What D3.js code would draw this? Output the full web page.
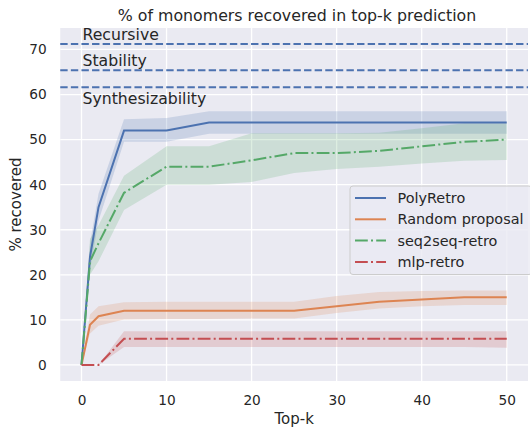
<!DOCTYPE html>
<html>
<head>
<meta charset="utf-8">
<script src="https://cdn.jsdelivr.net/npm/d3@7"></script>
<style>
  body { margin: 0; background: #fff; }
  text { font-family: "DejaVu Sans", sans-serif; fill: #262626; }
</style>
</head>
<body>
<div class="chart"></div>
<script>
// data
const topK = [0, 1, 2, 5, 10, 15, 20, 25, 30, 35, 40, 45, 50];

const polyMean = [0, 24, 35, 52, 52, 53.8, 53.8, 53.8, 53.8, 53.8, 53.8, 53.8, 53.8];
const polyLo   = [0, 21, 32, 49.5, 49.5, 51.3, 51.3, 51.3, 51.3, 51.3, 51.3, 51.3, 51.3];
const polyHi   = [0, 27, 38, 54.5, 54.8, 56.3, 56.3, 56.3, 56.3, 56.3, 56.3, 56.3, 56.3];

const randMean = [0, 8.9, 10.8, 12, 12, 12, 12, 12, 13, 14, 14.5, 15, 15];
const randLo   = [0, 7, 8.7, 10.1, 10.2, 10.2, 10.3, 10.3, 11.5, 12.5, 13, 13.3, 13.3];
const randHi   = [0, 11.2, 13, 13.9, 14, 14, 14, 14, 15.3, 16.2, 16.4, 16.5, 16.5];

const seqMean = [0, 23, 27, 38.2, 44, 44, 45.4, 47, 47, 47.5, 48.5, 49.5, 50];
const seqLo   = [0, 20, 23, 34.4, 40, 40, 40.6, 42.6, 43.5, 44, 44.7, 45.3, 45.5];
const seqHi   = [0, 28, 31, 42, 48.5, 48.5, 51.4, 51.4, 51.4, 51.5, 52.5, 53.6, 53.6];

const mlpMean = [0, 0, 0, 5.8, 5.8, 5.8, 5.8, 5.8, 5.8, 5.8, 5.8, 5.8, 5.8];
const mlpLo   = [0, 0, 0, 4, 4, 4, 4, 4, 4, 4, 4, 4, 3.8];
const mlpHi   = [0, 0, 0, 7.5, 7.5, 7.5, 7.5, 7.5, 7.5, 7.5, 7.5, 7.5, 7.5];

const refNames = ["Recursive", "Stability", "Synthesizability"];
const refValues = [71.2, 65.4, 61.6];

const xTicks = [0, 10, 20, 30, 40, 50];
const yTicks = [0, 10, 20, 30, 40, 50, 60, 70];

const series = [
  { name: "PolyRetro", mean: polyMean, lo: polyLo, hi: polyHi, color: "#4c72b0", dash: null },
  { name: "Random proposal", mean: randMean, lo: randLo, hi: randHi, color: "#dd8452", dash: null },
  { name: "seq2seq-retro", mean: seqMean, lo: seqLo, hi: seqHi, color: "#55a868", dash: "12.8,3.2,2,3.2" },
  { name: "mlp-retro", mean: mlpMean, lo: mlpLo, hi: mlpHi, color: "#c44e52", dash: "12.8,3.2,2,3.2" }
];

const width = 530, height = 428;
const margin = { top: 28, right: 2, bottom: 47, left: 60.25 };

const x = d3.scaleLinear()
  .domain([-2.5, 52.5])
  .range([margin.left, width - margin.right]);

const y = d3.scaleLinear()
  .domain([-3.56, 74.76])
  .range([height - margin.bottom, margin.top]);

const svg = d3.select(".chart")
  .append("svg")
  .attr("width", width)
  .attr("height", height);

svg.append("rect")
  .attr("x", x.range()[0])
  .attr("y", y.range()[1])
  .attr("width", x.range()[1] - x.range()[0])
  .attr("height", y.range()[0] - y.range()[1])
  .attr("fill", "#eaeaf2");

// grid
svg.append("g")
  .attr("stroke", "#fff")
  .attr("stroke-width", 1.3)
  .call(g => g.selectAll(".gx").data(xTicks).join("line")
    .attr("x1", d => x(d)).attr("x2", d => x(d))
    .attr("y1", y.range()[0]).attr("y2", y.range()[1]))
  .call(g => g.selectAll(".gy").data(yTicks).join("line")
    .attr("y1", d => y(d)).attr("y2", d => y(d))
    .attr("x1", x.range()[0]).attr("x2", x.range()[1]));

const area = (s) => d3.area()
  .x((_, i) => x(topK[i]))
  .y0((_, i) => y(s.lo[i]))
  .y1((_, i) => y(s.hi[i]));

const line = (s) => d3.line()
  .x((_, i) => x(topK[i]))
  .y(d => y(d));

svg.append("g")
  .selectAll("path")
  .data(series)
  .join("path")
  .attr("d", s => area(s)(s.mean))
  .attr("fill", s => s.color)
  .attr("fill-opacity", 0.2);

svg.append("g")
  .selectAll("path")
  .data(series)
  .join("path")
  .attr("d", s => line(s)(s.mean))
  .attr("fill", "none")
  .attr("stroke", s => s.color)
  .attr("stroke-width", 2)
  .attr("stroke-dasharray", s => s.dash);

// reference lines
svg.append("g")
  .selectAll("line")
  .data(refValues)
  .join("line")
  .attr("x1", x.range()[0])
  .attr("x2", x.range()[1])
  .attr("y1", d => y(d))
  .attr("y2", d => y(d))
  .attr("stroke", "#4c72b0")
  .attr("stroke-width", 2)
  .attr("stroke-dasharray", "7.4,3.2");

const refDy = [-4, -4, 17];
svg.append("g")
  .style("font-size", "15.7px")
  .selectAll("text")
  .data(refNames)
  .join("text")
  .attr("x", x(0) + 1)
  .attr("y", (d, i) => y(refValues[i]) + refDy[i])
  .text(d => d);

// axes
const xAxis = svg.append("g")
  .attr("transform", `translate(0,${y.range()[0]})`)
  .call(d3.axisBottom(x).tickValues(xTicks).tickSize(0).tickPadding(14))
  .call(g => g.select(".domain").remove());
xAxis.selectAll("text").style("font-size", "13.7px").attr("fill", "#262626");

const yAxis = svg.append("g")
  .attr("transform", `translate(${margin.left},0)`)
  .call(d3.axisLeft(y).tickValues(yTicks).tickSize(0).tickPadding(13.5))
  .call(g => g.select(".domain").remove());
yAxis.selectAll("text").style("font-size", "13.7px").attr("fill", "#262626");

svg.append("text")
  .attr("x", (x.range()[0] + x.range()[1]) / 2)
  .attr("y", 424)
  .attr("text-anchor", "middle")
  .style("font-size", "15px")
  .text("Top-k");

svg.append("text")
  .attr("transform", `translate(21,${(y.range()[0] + y.range()[1]) / 2}) rotate(-90)`)
  .attr("text-anchor", "middle")
  .style("font-size", "15px")
  .text("% recovered");

svg.append("text")
  .attr("x", 297)
  .attr("y", 20.5)
  .attr("text-anchor", "middle")
  .style("font-size", "15.8px")
  .text("% of monomers recovered in top-k prediction");

// legend
const legend = svg.append("g").attr("transform", "translate(350,186)");
legend.append("rect")
  .attr("width", 182)
  .attr("height", 88.5)
  .attr("rx", 3)
  .attr("fill", "#eaeaf2")
  .attr("fill-opacity", 0.8)
  .attr("stroke", "#cccccc");

const item = legend.selectAll(".item")
  .data(series)
  .join("g")
  .attr("transform", (_, i) => `translate(0,${12 + i * 21.3})`);

item.append("line")
  .attr("x1", 5).attr("x2", 36)
  .attr("stroke", s => s.color)
  .attr("stroke-width", 2)
  .attr("stroke-dasharray", s => s.dash);

item.append("text")
  .attr("x", 47.5)
  .attr("dy", "0.35em")
  .style("font-size", "14.4px")
  .text(s => s.name);
</script>
</body>
</html>
